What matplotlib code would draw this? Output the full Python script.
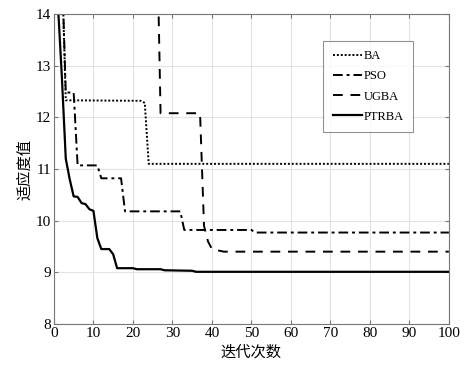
import matplotlib.pyplot as plt

# iteration / fitness points
ba_x = [0, 2, 3, 22, 23, 24, 100]
ba_y = [16, 15, 12.33, 12.32, 12.28, 11.10, 11.10]

pso_x = [0, 2, 3, 5, 6, 11, 12, 17, 18, 32, 33, 50, 51, 100]
pso_y = [16, 15, 12.48, 12.48, 11.07, 11.07, 10.82, 10.82, 10.18, 10.18, 9.82, 9.82, 9.77, 9.77]

ugba_x = [0, 26, 27, 37, 38, 39, 40, 43, 100]
ugba_y = [16, 16, 12.08, 12.08, 9.9, 9.6, 9.45, 9.40, 9.40]

ptrba_x = [0, 1, 2, 3, 4, 5, 6, 7, 8, 9, 10, 11, 12, 14, 15, 16, 20, 21, 27, 28, 35, 36, 100]
ptrba_y = [18, 14.2, 12.8, 11.2, 10.8, 10.47, 10.46, 10.34, 10.32, 10.22, 10.19, 9.66, 9.45,
           9.45, 9.35, 9.08, 9.08, 9.06, 9.06, 9.04, 9.03, 9.01, 9.01]

x_ticks = list(range(0, 101, 10))
y_ticks = list(range(8, 15))

serif = 'Liberation Serif'
cjk = ['Noto Sans CJK SC', 'DejaVu Sans']

fig = plt.figure(figsize=(4.73, 3.69), dpi=100)
ax = fig.add_axes([0.114, 0.122, 0.835, 0.840])

ax.plot(ba_x, ba_y, color='k', lw=1.4, linestyle=(0, (1, 1)), label='BA')
ax.plot(pso_x, pso_y, color='k', lw=1.4, linestyle=(0, (5, 2, 1.5, 2)), label='PSO')
ax.plot(ugba_x, ugba_y, color='k', lw=1.4, linestyle=(0, (5, 4)), label='UGBA')
ax.plot(ptrba_x, ptrba_y, color='k', lw=1.6, linestyle='-', label='PTRBA')

ax.set_xlim(0, 100)
ax.set_ylim(8, 14)
ax.set_xticks(x_ticks)
ax.set_yticks(y_ticks)
ax.grid(True, color='#e3e3e3', lw=0.8)
ax.set_axisbelow(True)
ax.tick_params(direction='in', top=True, right=True, length=3, color='#777777',
               labelsize=11, pad=2)
for lab in ax.get_xticklabels() + ax.get_yticklabels():
    lab.set_family(serif)
for sp in ax.spines.values():
    sp.set_color('#777777')
    sp.set_linewidth(0.8)

ax.set_xlabel('迭代次数', family=cjk, fontsize=11, labelpad=3)
ax.set_ylabel('适应度值', family=cjk, fontsize=11, labelpad=2)

leg = ax.legend(loc='upper right', bbox_to_anchor=(0.909, 0.913), borderaxespad=0,
                prop={'family': serif, 'size': 9},
                frameon=True, fancybox=False, handlelength=2.3, handletextpad=0.15,
                labelspacing=0.65, borderpad=0.75, edgecolor='#777777')
leg.get_frame().set_linewidth(0.8)

fig.savefig('out.png', dpi=100)
